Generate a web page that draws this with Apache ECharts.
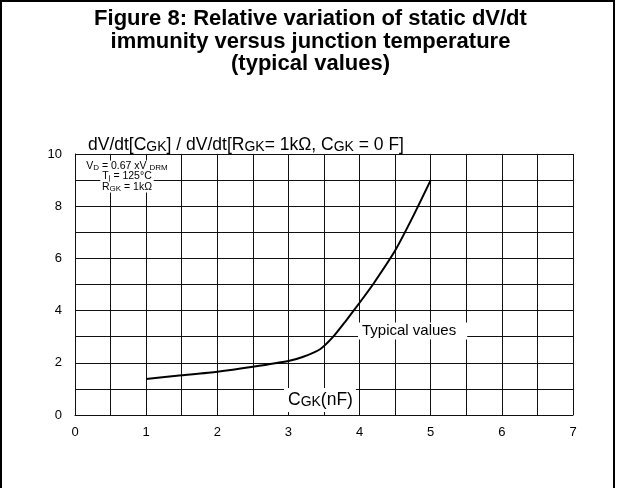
<!DOCTYPE html>
<html>
<head>
<meta charset="utf-8">
<script src="https://cdn.jsdelivr.net/npm/echarts@6/dist/echarts.min.js"></script>
<style>
  html, body { margin: 0; padding: 0; background: #fff; }
  #chart { width: 621px; height: 488px; }
</style>
</head>
<body>
<div id="chart"></div>
<script>
// curve (C_GK in nF, relative dV/dt)
const capacitance = [1.0, 1.5, 2.0, 2.5, 3.0, 3.2, 3.45, 3.63, 3.8, 4.0, 4.2, 4.5, 4.75, 5.0]
const ratio = [1.38, 1.52, 1.66, 1.85, 2.07, 2.22, 2.53, 3.0, 3.58, 4.3, 5.05, 6.3, 7.6, 9.0]

const titleLines = [
  'Figure 8: Relative variation of static dV/dt',
  'immunity versus junction temperature',
  '(typical values)',
]
const conditions = [
  '{m|V}{s|D}{m| = 0.67 xV }{s|DRM}',
  '{m|T}{s|j}{m| = 125°C}',
  '{m|R}{s|GK}{m| = 1kΩ}',
]

const font = 'Liberation Sans, Arial, sans-serif'
const gridColor = '#111'

const chart = echarts.init(document.getElementById('chart'))

const condRich = {
  m: { fontSize: 10.5, fontFamily: font, color: '#000', verticalAlign: 'bottom' },
  s: { fontSize: 8, fontFamily: font, color: '#000', verticalAlign: 'bottom' },
}
const labelRich = {
  a: { fontSize: 17.5, fontFamily: font, color: '#000', verticalAlign: 'bottom' },
  b: { fontSize: 14, fontFamily: font, color: '#000', verticalAlign: 'bottom' },
}

chart.setOption({
  animation: false,
  backgroundColor: '#fff',
  title: {
    text: titleLines.join('\n'),
    left: 'center',
    top: 3,
    textStyle: { fontFamily: font, fontSize: 22, fontWeight: 'bold', color: '#000', lineHeight: 22.5 },
  },
  grid: { left: 75, right: 48, top: 154, bottom: 73 },
  xAxis: {
    type: 'value',
    min: 0,
    max: 7,
    interval: 1,
    axisLine: { show: true, lineStyle: { color: gridColor, width: 1 } },
    axisTick: { show: false },
    axisLabel: { fontFamily: font, fontSize: 13, color: '#000', margin: 11 },
    splitLine: { show: true, lineStyle: { color: gridColor, width: 1 } },
    minorTick: { show: false, splitNumber: 2 },
    minorSplitLine: { show: true, lineStyle: { color: gridColor, width: 1 } },
  },
  yAxis: {
    type: 'value',
    min: 0,
    max: 10,
    interval: 2,
    axisLine: { show: true, lineStyle: { color: gridColor, width: 1 } },
    axisTick: { show: false },
    axisLabel: { fontFamily: font, fontSize: 13, color: '#000', margin: 13 },
    splitLine: { show: true, lineStyle: { color: gridColor, width: 1 } },
    minorTick: { show: false, splitNumber: 2 },
    minorSplitLine: { show: true, lineStyle: { color: gridColor, width: 1 } },
  },
  series: [
    {
      type: 'line',
      data: capacitance.map((c, i) => [c, ratio[i]]),
      smooth: 0.2,
      showSymbol: false,
      lineStyle: { color: '#000', width: 2 },
      z: 3,
    },
  ],
  graphic: [
    // outer frame
    {
      type: 'rect',
      shape: { x: 1, y: 1, width: 613, height: 500 },
      style: { fill: 'none', stroke: '#000', lineWidth: 2 },
      z: 10,
    },
    // y axis title
    {
      type: 'text',
      x: 88,
      y: 145,
      style: {
        text: '{a|dV/dt[C}{b|GK}{a|] / dV/dt[R}{b|GK}{a|= 1kΩ, C}{b|GK}{a| = 0 F]}',
        rich: labelRich,
        verticalAlign: 'middle',
      },
      z: 10,
    },
    // test conditions
    ...conditions.map((t, i) => ({
      type: 'text',
      x: 127,
      y: 166 + i * 10.5,
      style: {
        text: t,
        rich: condRich,
        align: 'center',
        verticalAlign: 'middle',
        backgroundColor: '#fff',
        padding: [0, 2, 0, 2],
      },
      z: 10,
    })),
    // curve label
    {
      type: 'text',
      x: 358,
      y: 331,
      style: {
        text: 'Typical values',
        fontSize: 15,
        fontFamily: font,
        fill: '#000',
        verticalAlign: 'middle',
        backgroundColor: '#fff',
        padding: [1, 11, 1, 4],
      },
      z: 10,
    },
    // x axis title
    {
      type: 'text',
      x: 284,
      y: 400,
      style: {
        text: '{a|C}{b|GK}{a|(nF)}',
        rich: labelRich,
        verticalAlign: 'middle',
        backgroundColor: '#fff',
        padding: [3, 3, 3, 4],
      },
      z: 10,
    },
  ],
})
</script>
</body>
</html>
